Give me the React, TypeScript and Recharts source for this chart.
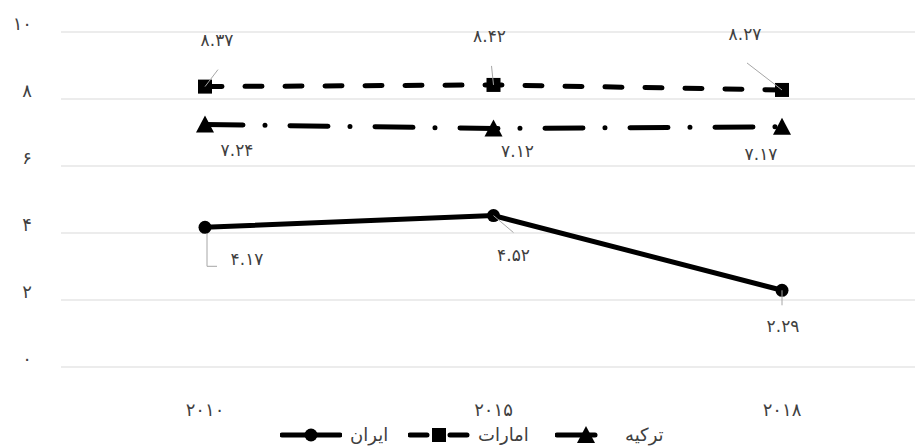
import { CartesianGrid, LabelList, Line, LineChart, XAxis, YAxis } from "recharts";

const years = ["۲۰۱۰", "۲۰۱۵", "۲۰۱۸"];
const iran = [4.17, 4.52, 2.29];
const emirates = [8.37, 8.42, 8.27];
const turkey = [7.24, 7.12, 7.17];
const yTicks = [0, 2, 4, 6, 8, 10];

const seriesNames = { iran: "ایران", emirates: "امارات", turkey: "ترکیه" };

const data = years.map((year, i) => ({
  year,
  iran: iran[i],
  emirates: emirates[i],
  turkey: turkey[i],
}));

const FONT = "'DejaVu Sans', sans-serif";
const TEXT = "#404040";
const LEADER = "#a6a6a6";
const INK = "#000";

const fa = (v: number | string) =>
  String(v).replace(/\d/g, (d) => "۰۱۲۳۴۵۶۷۸۹"[Number(d)]);

// where each data label sits relative to its point, plus its leader line
type Place = { dx: number; dy: number; leader?: [number, number][] };
const iranPlaces: Place[] = [
  { dx: 42, dy: 32, leader: [[2, 6], [2, 39], [12, 39]] },
  { dx: 20, dy: 39, leader: [[0, 0], [20, 17]] },
  { dx: 1, dy: 36, leader: [[0, 0], [0, 15]] },
];
const emiratesPlaces: Place[] = [
  { dx: 12, dy: -47, leader: [[0, 0], [13, -17]] },
  { dx: -4, dy: -49, leader: [[0, 0], [-2, -19]] },
  { dx: -37, dy: -56, leader: [[0, 0], [-35, -27]] },
];
const turkeyPlaces: Place[] = [
  { dx: 32, dy: 26 },
  { dx: 24, dy: 23 },
  { dx: -21, dy: 27 },
];

const DASH_EMIRATES = "17 23";
const DASH_TURKEY = "38 22 0 25";

function makeLabel(places: Place[]) {
  return (p: any) => {
    const x = p.viewBox?.x ?? p.x;
    const y = p.viewBox?.y ?? p.y;
    const place = places[p.index];
    if (!place || x == null || y == null) return null;
    return (
      <g key={`lbl-${p.index}`}>
        {place.leader && (
          <polyline
            points={place.leader.map(([a, b]) => `${x + a},${y + b}`).join(" ")}
            fill="none"
            stroke={LEADER}
            strokeWidth={1}
          />
        )}
        <text
          x={x + place.dx}
          y={y + place.dy}
          textAnchor="middle"
          dominantBaseline="central"
          fontFamily={FONT}
          fontSize={17}
          fill={TEXT}
        >
          {fa(p.value)}
        </text>
      </g>
    );
  };
}

function Marker({ kind, cx, cy }: { kind: string; cx: number; cy: number }) {
  if (kind === "circle") return <circle cx={cx} cy={cy} r={6.5} fill={INK} />;
  if (kind === "square")
    return <rect x={cx - 7} y={cy - 7} width={14} height={14} fill={INK} />;
  return (
    <polygon
      points={`${cx},${cy - 9} ${cx + 9},${cy + 8} ${cx - 9},${cy + 8}`}
      fill={INK}
    />
  );
}

const dotOf = (kind: string) => (p: any) =>
  p.cx == null ? <g key={`d-${p.index}`} /> : <Marker key={`d-${p.index}`} kind={kind} cx={p.cx} cy={p.cy} />;

const legendItems = [
  { name: seriesNames.iran, kind: "circle", dash: undefined, x: 280 },
  { name: seriesNames.emirates, kind: "square", dash: DASH_EMIRATES, x: 408 },
  { name: seriesNames.turkey, kind: "triangle", dash: DASH_TURKEY, x: 555 },
];

export default function App() {
  return (
    <div
      style={{
        position: "absolute",
        left: 0,
        top: 0,
        width: 915,
        height: 446,
        overflow: "hidden",
        background: "#fff",
      }}
    >
      <LineChart
        width={926}
        height={446}
        data={data}
        margin={{ top: 32, right: 0, bottom: 49, left: 0 }}
      >
        <CartesianGrid horizontal vertical={false} stroke="#d9d9d9" strokeWidth={1} />
        <XAxis
          dataKey="year"
          height={30}
          axisLine={false}
          tickLine={false}
          tickSize={0}
          tickMargin={0}
          padding={{ left: 144, right: 144 }}
          tick={(p: any) => (
            <text
              x={p.x}
              y={p.y + 42}
              textAnchor="middle"
              dominantBaseline="central"
              fontFamily={FONT}
              fontSize={18}
              fill={TEXT}
            >
              {p.payload.value}
            </text>
          )}
        />
        <YAxis
          width={61}
          domain={[0, 10]}
          ticks={yTicks}
          axisLine={false}
          tickLine={false}
          tick={(p: any) => (
            <text
              x={32}
              y={p.y - 9}
              textAnchor="end"
              dominantBaseline="central"
              fontFamily={FONT}
              fontSize={18}
              fill={TEXT}
            >
              {fa(p.payload.value)}
            </text>
          )}
        />
        <Line
          dataKey="iran"
          name={seriesNames.iran}
          stroke={INK}
          strokeWidth={5}
          strokeLinecap="round"
          dot={dotOf("circle")}
          activeDot={false}
          isAnimationActive={false}
        >
          <LabelList dataKey="iran" content={makeLabel(iranPlaces)} />
        </Line>
        <Line
          dataKey="emirates"
          name={seriesNames.emirates}
          stroke={INK}
          strokeWidth={5}
          strokeDasharray={DASH_EMIRATES}
          strokeLinecap="round"
          dot={dotOf("square")}
          activeDot={false}
          isAnimationActive={false}
        >
          <LabelList dataKey="emirates" content={makeLabel(emiratesPlaces)} />
        </Line>
        <Line
          dataKey="turkey"
          name={seriesNames.turkey}
          stroke={INK}
          strokeWidth={5}
          strokeDasharray={DASH_TURKEY}
          strokeLinecap="round"
          dot={dotOf("triangle")}
          activeDot={false}
          isAnimationActive={false}
        >
          <LabelList dataKey="turkey" content={makeLabel(turkeyPlaces)} />
        </Line>
      </LineChart>
      {/* legend: symbol on the left, name to its right */}
      {legendItems.map((it) => (
        <div
          key={it.name}
          style={{ position: "absolute", left: it.x, top: 425, height: 20, display: "flex", alignItems: "center" }}
        >
          <svg width={62} height={20}>
            <line
              x1={2}
              y1={10}
              x2={60}
              y2={10}
              stroke={INK}
              strokeWidth={5}
              strokeLinecap="round"
              strokeDasharray={it.dash}
            />
            <Marker kind={it.kind} cx={31} cy={10} />
          </svg>
          <span
            style={{
              marginLeft: 8,
              fontFamily: FONT,
              fontSize: 18,
              color: TEXT,
              lineHeight: "20px",
              direction: "rtl",
            }}
          >
            {it.name}
          </span>
        </div>
      ))}
    </div>
  );
}
